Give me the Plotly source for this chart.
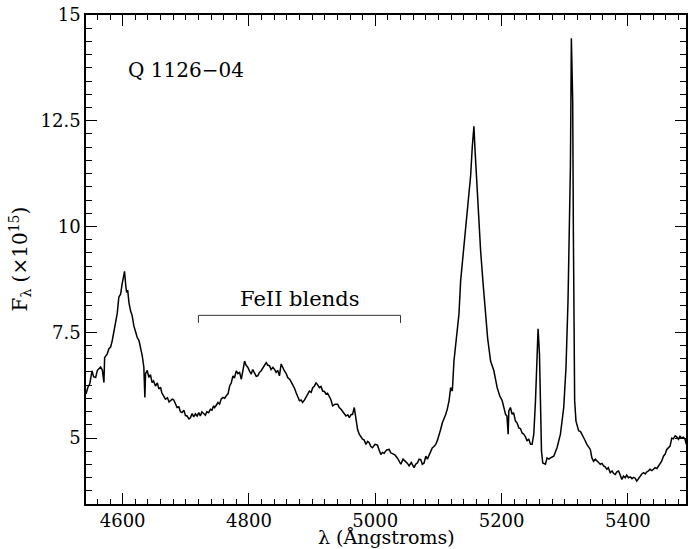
import plotly.graph_objects as go

# Wavelength (Angstrom) and flux F_lambda (x1e15)
wavelength = [
    4542, 4545, 4548, 4551.5, 4554, 4557.3, 4560, 4562.5, 4565.2, 4568, 4570.4, 4571.5,
    4575.6, 4578.3, 4581, 4583.5, 4586, 4588.9, 4591.4, 4594, 4596.8, 4599.3, 4602, 4603,
    4605, 4606.3, 4608, 4610, 4612.6, 4615, 4617.8, 4620.5, 4623, 4626, 4628.4, 4631,
    4633.6, 4635.2, 4636.3, 4639, 4641.5, 4644, 4646.7, 4649, 4652, 4655, 4657.3, 4660,
    4662, 4665, 4667.8, 4671, 4673.5, 4675.7, 4678.5, 4681, 4684, 4686.2, 4689, 4691.5,
    4694, 4697, 4699.5, 4702, 4705, 4707.3, 4710, 4712.5, 4715.2, 4718, 4720.5, 4723,
    4725.5, 4728.3, 4731, 4733.5, 4736.2, 4739, 4741.5, 4744, 4745.7, 4748.5, 4751, 4753.5,
    4756, 4758.8, 4761.5, 4764.2, 4767, 4769.4, 4772, 4774.6, 4777, 4780, 4782.5, 4785.2,
    4787.9, 4790.5, 4793, 4795.5, 4798.3, 4801, 4803.6, 4806, 4808.9, 4811.5, 4814, 4816.5,
    4819.4, 4823, 4827.3, 4830, 4832.5, 4835, 4837.8, 4840.5, 4843, 4845.5, 4848.3, 4851,
    4853.5, 4856, 4859, 4861.4, 4865, 4869.3, 4872, 4874.7, 4877.5, 4880, 4882.5, 4885,
    4888, 4890.5, 4893, 4895.7, 4898.5, 4901, 4903.5, 4906.3, 4909, 4911.5, 4914, 4916.7,
    4919.5, 4922, 4924.5, 4927.3, 4930, 4932.5, 4936.5, 4940.4, 4943, 4945.8, 4950, 4953.6,
    4956.5, 4958.9, 4961.5, 4964, 4966.8, 4969.4, 4972, 4974.6, 4977, 4979.9, 4982.5, 4985.2,
    4988, 4990.4, 4993, 4995.6, 4999.5, 5003.5, 5006.5, 5008.9, 5011.5, 5014, 5018, 5022,
    5024.5, 5027.2, 5031, 5035, 5037.5, 5040.5, 5044, 5048.4, 5051, 5053.6, 5057, 5061.5,
    5064, 5066.7, 5069.5, 5072, 5074.5, 5077.3, 5080, 5082.5, 5085.2, 5088, 5090.4, 5093,
    5095.8, 5098.5, 5101, 5103.5, 5106.2, 5109, 5111.6, 5114, 5116.8, 5119.4, 5122, 5124.6,
    5128, 5132.5, 5135.2, 5139, 5143, 5148.3, 5151, 5153.6, 5156.2, 5158, 5161.4, 5164,
    5166.8, 5171, 5174.7, 5178, 5182.6, 5187.8, 5193, 5197, 5201, 5204, 5206.3, 5208.5,
    5210.4, 5211.5, 5214, 5216.7, 5219, 5222, 5224.5, 5227.3, 5230, 5232.5, 5235.2, 5238,
    5240.4, 5243, 5245.8, 5248.3, 5251, 5253.7, 5256.2, 5257.8, 5260, 5261.6, 5263.2, 5265.2,
    5269.5, 5272, 5275, 5277.4, 5280, 5282.6, 5287.8, 5293.2, 5298.4, 5302, 5305.2, 5307.3,
    5309, 5310.5, 5312.6, 5313.7, 5314.6, 5315.7, 5317.8, 5322, 5325, 5327.3, 5330, 5332.6,
    5335, 5337.8, 5340.5, 5343, 5345.7, 5348.4, 5351, 5353.6, 5356.3, 5359, 5361.5, 5364,
    5366.7, 5369, 5372, 5375, 5377.5, 5380, 5382.5, 5385.2, 5388, 5390.4, 5393, 5395.8,
    5398, 5401, 5404, 5406.5, 5409, 5411.5, 5414, 5417, 5419.5, 5422, 5424.7, 5427.5,
    5430, 5432.6, 5435, 5438, 5440.5, 5443, 5446, 5448.3, 5451, 5453.5, 5456.3, 5459,
    5461.5, 5464, 5466.8, 5469.4, 5472, 5474.8, 5477.5, 5480, 5482.5, 5485, 5488, 5490.5,
    5492.5,
]

flux = [
    6.04, 6.20, 6.28, 6.59, 6.45, 6.43, 6.60, 6.64, 6.68, 6.60, 6.31, 6.90,
    6.99, 7.11, 7.15, 7.30, 7.50, 7.70, 7.94, 8.33, 8.40, 8.65, 8.88, 8.94,
    8.60, 8.44, 8.50, 8.20, 8.00, 7.90, 7.65, 7.50, 7.38, 7.30, 7.14, 6.95,
    6.67, 5.96, 6.52, 6.60, 6.43, 6.50, 6.31, 6.35, 6.23, 6.30, 6.16, 6.20,
    6.07, 6.00, 5.92, 5.95, 5.85, 5.88, 5.92, 5.90, 5.78, 5.72, 5.74, 5.62,
    5.60, 5.66, 5.53, 5.52, 5.45, 5.48, 5.58, 5.50, 5.57, 5.52, 5.60, 5.52,
    5.62, 5.57, 5.54, 5.62, 5.60, 5.68, 5.66, 5.76, 5.72, 5.78, 5.84, 5.80,
    5.92, 5.96, 5.94, 6.00, 6.05, 6.23, 6.30, 6.47, 6.42, 6.59, 6.52, 6.55,
    6.39, 6.60, 6.82, 6.72, 6.67, 6.58, 6.51, 6.62, 6.55, 6.46, 6.47, 6.55,
    6.59, 6.68, 6.78, 6.72, 6.71, 6.62, 6.67, 6.62, 6.55, 6.60, 6.47, 6.75,
    6.66, 6.59, 6.52, 6.43, 6.38, 6.27, 6.18, 6.07, 5.95, 5.88, 5.90, 5.84,
    5.90, 5.96, 6.05, 6.11, 6.08, 6.19, 6.22, 6.31, 6.25, 6.19, 6.22, 6.11,
    6.10, 6.04, 6.06, 5.96, 5.90, 5.76, 5.80, 5.80, 5.72, 5.68, 5.60, 5.52,
    5.55, 5.48, 5.55, 5.56, 5.72, 5.40, 5.20, 5.09, 5.02, 4.97, 4.95, 4.85,
    4.92, 4.89, 4.80, 4.77, 4.85, 4.83, 4.70, 4.61, 4.66, 4.64, 4.72, 4.73,
    4.65, 4.62, 4.60, 4.53, 4.45, 4.38, 4.50, 4.45, 4.40, 4.34, 4.42, 4.30,
    4.38, 4.41, 4.50, 4.49, 4.38, 4.41, 4.57, 4.50, 4.60, 4.68, 4.77, 4.80,
    4.85, 4.95, 5.05, 5.20, 5.36, 5.45, 5.56, 5.68, 5.88, 6.19, 6.11, 6.82,
    7.30, 7.93, 8.72, 9.30, 9.83, 10.62, 11.20, 11.88, 12.37, 11.80, 10.77, 10.10,
    9.43, 8.60, 7.93, 7.35, 6.82, 6.59, 6.19, 6.00, 5.88, 5.72, 5.56, 5.52,
    5.09, 5.64, 5.72, 5.56, 5.60, 5.40, 5.36, 5.24, 5.22, 5.12, 5.09, 5.02,
    4.93, 4.98, 4.85, 4.85, 5.09, 5.88, 7.06, 7.58, 6.98, 5.88, 4.69, 4.41,
    4.38, 4.53, 4.50, 4.53, 4.55, 4.57, 4.77, 5.09, 5.72, 6.67, 8.25, 9.83,
    11.41, 14.45, 12.99, 9.83, 7.46, 5.88, 5.40, 5.17, 5.15, 5.09, 5.00, 4.93,
    4.85, 4.77, 4.73, 4.53, 4.45, 4.50, 4.45, 4.42, 4.38, 4.40, 4.34, 4.32,
    4.26, 4.30, 4.18, 4.22, 4.16, 4.14, 4.20, 4.22, 4.12, 4.02, 4.10, 4.06,
    4.12, 4.06, 4.08, 4.04, 4.07, 4.05, 3.98, 4.05, 4.10, 4.15, 4.18, 4.15,
    4.20, 4.22, 4.26, 4.23, 4.26, 4.30, 4.28, 4.34, 4.40, 4.45, 4.57, 4.62,
    4.73, 4.76, 4.81, 5.00, 4.98, 5.05, 5.02, 4.97, 5.04, 5.00, 5.02, 4.97,
    4.85,
]

x_ticks = [4600, 4800, 5000, 5200, 5400]
y_ticks = [5, 7.5, 10, 12.5, 15]
y_tick_labels = ["5", "7.5", "10", "12.5", "15"]

FONT = "DejaVu Serif"

fig = go.Figure()
fig.add_trace(go.Scatter(
    x=wavelength, y=flux, mode="lines",
    line=dict(color="black", width=1.5),
    showlegend=False, hoverinfo="skip",
))

# FeII blends bracket
fig.add_shape(type="path", xref="x", yref="y",
              path="M 4720,7.72 L 4720,7.9 L 5040,7.9 L 5040,7.72",
              line=dict(color="#333", width=1))

fig.add_annotation(x=4880, y=7.9, yshift=2, text="FeII blends", showarrow=False,
                   xanchor="center", yanchor="bottom",
                   font=dict(family=FONT, size=21, color="black"))
fig.add_annotation(x=4606, y=13.7, text="Q 1126\u221204", showarrow=False,
                   xanchor="left", yanchor="middle",
                   font=dict(family=FONT, size=20, color="black"))

# axis titles as annotations
fig.add_annotation(xref="paper", yref="paper", x=0.5, y=0, yshift=-46,
                   text="\u03bb (\u00c5ngstroms)", showarrow=False,
                   xanchor="center", yanchor="bottom",
                   font=dict(family=FONT, size=19, color="black"))
fig.add_annotation(xref="paper", yref="paper", x=0, y=0.5, xshift=-66,
                   text="F<sub>\u03bb</sub> (\u00d710<sup>15</sup>)", showarrow=False,
                   textangle=-90, xanchor="center", yanchor="middle",
                   font=dict(family=FONT, size=20, color="black"))

axis_common = dict(
    showline=True, linecolor="black", linewidth=1.5, mirror="ticks",
    ticks="inside", ticklen=11, tickwidth=1.3, tickcolor="black",
    showgrid=False, zeroline=False,
    tickfont=dict(family=FONT, size=18, color="black"),
)

fig.update_xaxes(
    range=[4542, 5492], tickvals=x_ticks,
    minor=dict(dtick=20, tick0=4600, ticks="inside", ticklen=5, tickwidth=1, tickcolor="black"),
    **axis_common,
)
fig.update_yaxes(
    range=[3.44, 15], tickvals=y_ticks, ticktext=y_tick_labels,
    minor=dict(dtick=0.3125, tick0=5, ticks="inside", ticklen=6, tickwidth=1, tickcolor="black"),
    **axis_common,
)

fig.update_layout(
    width=689, height=549,
    margin=dict(l=86, r=1, t=15, b=45, pad=0),
    paper_bgcolor="white", plot_bgcolor="white",
)

fig.write_html("out.html")
